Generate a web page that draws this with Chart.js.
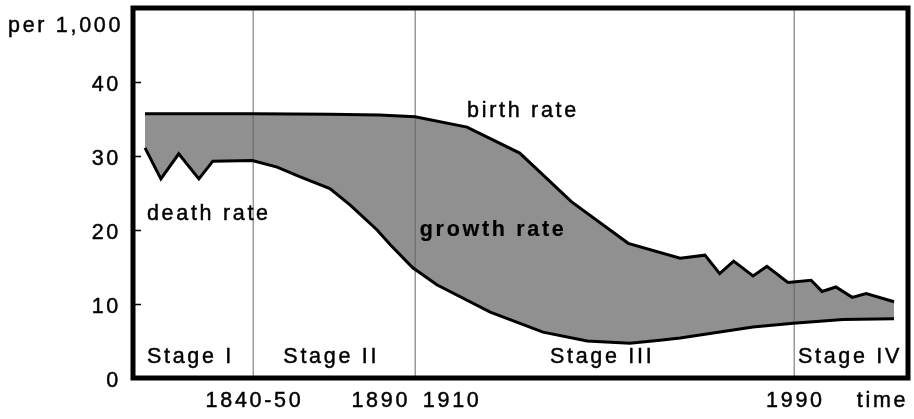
<!DOCTYPE html>
<html>
<head>
<meta charset="utf-8">
<script src="https://cdn.jsdelivr.net/npm/chart.js@4"></script>
<style>
  body { margin: 0; background: #fff; }
  canvas { display: block; }
</style>
</head>
<body>
<canvas id="chartDemo" width="914" height="419"></canvas>
<script>
// time runs on an arbitrary 0-100 scale (no real years on the axis)
let birthTime = [1.55, 15.5, 25.4, 31.8, 36.4, 43.1, 49.9, 56.6, 63.9, 70.6, 73.8, 75.7, 77.5, 80.0, 81.8, 84.5, 87.5, 88.9, 90.7, 92.8, 94.6, 98.2];
let birthRate = [35.7, 35.7, 35.65, 35.55, 35.3, 33.9, 30.4, 23.8, 18.2, 16.2, 16.6, 14.1, 15.8, 13.8, 15.1, 12.9, 13.2, 11.7, 12.3, 10.9, 11.4, 10.3];
let deathTime = [1.55, 3.6, 5.9, 8.5, 10.3, 15.4, 18.6, 21.5, 25.4, 28.0, 31.5, 33.2, 36.1, 39.2, 46.1, 52.9, 58.6, 64.1, 68.0, 70.6, 80.0, 85.2, 91.6, 98.2];
let deathRate = [31.1, 26.9, 30.3, 26.9, 29.3, 29.4, 28.5, 27.2, 25.6, 23.4, 20.0, 18.0, 14.9, 12.6, 8.9, 6.2, 5.0, 4.7, 5.1, 5.4, 6.9, 7.4, 7.9, 8.0];

let yTicks = [0, 10, 20, 30, 40];
let dividerTime = [15.5, 36.4, 85.3];

// x-axis text: [label, time, align]
let timeLabels = [
  ["1840-50", 15.5, "center"],
  ["1890", 35.4, "right"],
  ["1910", 37.4, "left"],
  ["1990", 85.3, "center"],
  ["time", 93.4, "left"],
];
let stageNames = ["Stage I", "Stage II", "Stage III", "Stage IV"];
let stageTime = [1.8, 19.4, 53.8, 85.8];

const fontFamily = "'Liberation Sans', Arial, sans-serif";
const spacing = 2.7;

function toPoints(xs, ys) {
  return xs.map((x, i) => ({ x: x, y: ys[i] }));
}

function drawText(ctx, txt, x, y, align, bold) {
  ctx.font = (bold ? "bold " : "") + "21.5px " + fontFamily;
  ctx.textAlign = align;
  ctx.textBaseline = "alphabetic";
  ctx.fillStyle = "#000";
  ctx.strokeStyle = "#000";
  ctx.lineWidth = bold ? 0.2 : 0.45;
  ctx.letterSpacing = spacing + "px";
  // trailing letter spacing shifts non-left text
  let shift = align == "center" ? spacing / 2 : align == "right" ? spacing : 0;
  ctx.fillText(txt, x + shift, y);
  ctx.strokeText(txt, x + shift, y);
}

const spacingPlugin = {
  id: "spacing",
  beforeDraw(chart) {
    chart.ctx.letterSpacing = spacing + "px";
  },
};

const dividerPlugin = {
  id: "dividers",
  beforeDatasetsDraw(chart) {
    let ctx = chart.ctx;
    let area = chart.chartArea;
    let xs = chart.scales.x;
    ctx.save();
    ctx.strokeStyle = "rgba(100,100,100,0.65)";
    ctx.lineWidth = 1.5;
    dividerTime.forEach((t) => {
      let px = Math.round(xs.getPixelForValue(t)) + 0.25;
      ctx.beginPath();
      ctx.moveTo(px, area.top);
      ctx.lineTo(px, area.bottom);
      ctx.stroke();
    });
    ctx.restore();
  },
};

const framePlugin = {
  id: "frame",
  afterDraw(chart) {
    let ctx = chart.ctx;
    let area = chart.chartArea;
    let xs = chart.scales.x;
    let ys = chart.scales.y;
    ctx.save();
    ctx.strokeStyle = "#000";
    ctx.lineWidth = 5;
    ctx.strokeRect(area.left, area.top, area.right - area.left, area.bottom - area.top);
    // small inner ticks on the y axis
    ctx.lineWidth = 1.5;
    yTicks.slice(1).forEach((v) => {
      let py = Math.round(ys.getPixelForValue(v)) + 0.5;
      ctx.beginPath();
      ctx.moveTo(area.left + 2, py);
      ctx.lineTo(area.left + 8, py);
      ctx.stroke();
    });

    drawText(ctx, "per 1,000", 8, 32, "left", false);
    drawText(ctx, "birth rate", xs.getPixelForValue(43.1), 117, "left", false);
    drawText(ctx, "death rate", xs.getPixelForValue(1.8), 220, "left", false);
    drawText(ctx, "growth rate", xs.getPixelForValue(37.0), 236, "left", true);

    stageNames.forEach((s, i) => {
      drawText(ctx, s, xs.getPixelForValue(stageTime[i]), 363, "left", false);
    });
    timeLabels.forEach((l) => {
      drawText(ctx, l[0], xs.getPixelForValue(l[1]), 407, l[2], false);
    });
    ctx.restore();
  },
};

const config = {
  type: "line",
  data: {
    datasets: [
      {
        label: "birth rate",
        data: toPoints(birthTime, birthRate),
        borderColor: "#000",
        borderWidth: 3,
        pointRadius: 0,
        fill: false,
      },
      {
        label: "death rate",
        data: toPoints(deathTime, deathRate),
        borderColor: "#000",
        borderWidth: 3,
        pointRadius: 0,
        fill: "-1",
        backgroundColor: "#909090",
      },
    ],
  },
  options: {
    responsive: false,
    animation: false,
    devicePixelRatio: 1,
    layout: { padding: { left: 0, top: 8, right: 6, bottom: 41 } },
    plugins: {
      legend: { display: false },
      tooltip: { enabled: false },
      filler: { drawTime: "beforeDatasetsDraw" },
    },
    scales: {
      x: {
        type: "linear",
        min: 0,
        max: 100,
        display: false,
      },
      y: {
        min: 0,
        max: 50,
        afterFit(scale) {
          scale.width = 133;
          scale.paddingTop = 0;
          scale.paddingBottom = 0;
        },
        afterBuildTicks(scale) {
          scale.ticks = yTicks.map((v) => ({ value: v }));
        },
        grid: { display: false, drawTicks: false },
        border: { display: false },
        ticks: {
          padding: 12,
          labelOffset: 3,
          color: "#000",
          textStrokeColor: "#000",
          textStrokeWidth: 0.45,
          font: { family: fontFamily, size: 21.5 },
        },
      },
    },
  },
  plugins: [spacingPlugin, dividerPlugin, framePlugin],
};

new Chart(document.getElementById("chartDemo"), config);
</script>
</body>
</html>
